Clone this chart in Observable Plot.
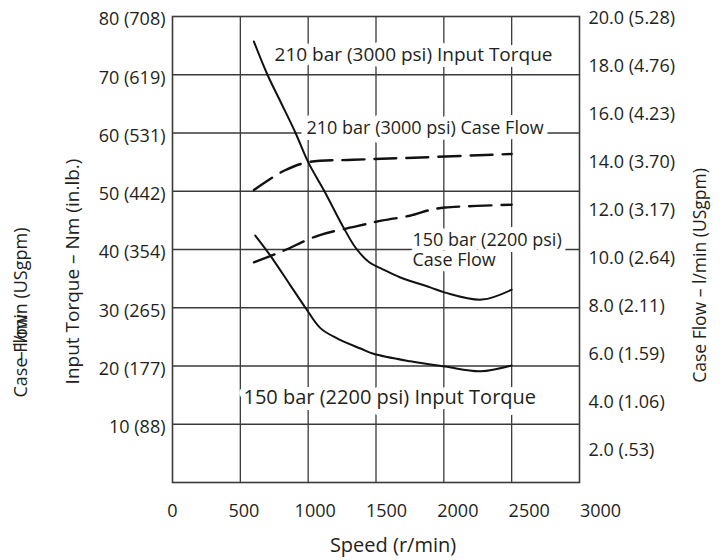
<!DOCTYPE html>
<html><head><meta charset="utf-8">
<script src="https://cdn.jsdelivr.net/npm/d3@7"></script>
<script src="https://cdn.jsdelivr.net/npm/@observablehq/plot@0.6"></script>
<style>
body{margin:0;background:#fff;}
#wrap{position:relative;width:721px;height:560px;}
#wrap svg{position:absolute;left:0;top:0;}
</style></head><body><div id="wrap"></div>
<script>
// ---- tick values and labels ----
const speedTicks = [0, 500, 1000, 1500, 2000, 2500, 3000];
const torqueTicks = [10, 20, 30, 40, 50, 60, 70, 80];
const torqueTickLabels = ["10 (88)", "20 (177)", "30 (265)", "40 (354)", "50 (442)", "60 (531)", "70 (619)", "80 (708)"];
const flowTicks = [2, 4, 6, 8, 10, 12, 14, 16, 18, 20];
const flowTickLabels = ["2.0 (.53)", "4.0 (1.06)", "6.0 (1.59)", "8.0 (2.11)", "10.0 (2.64)", "12.0 (3.17)", "14.0 (3.70)", "16.0 (4.23)", "18.0 (4.76)", "20.0 (5.28)"];

// ---- series (speed r/min; torque Nm; case flow l/min) ----
const speed210T = [600, 700, 800, 907, 1000, 1120, 1260, 1350, 1450, 1550, 1680, 1900, 2010, 2280, 2500];
const torque210 = [75.7, 70, 65.2, 60, 55, 50, 43.8, 40.3, 37.8, 36.6, 35.2, 33.5, 32.6, 31.4, 33.1];
const speed150T = [610, 720, 870, 980, 1090, 1216, 1386, 1481, 1754, 2010, 2270, 2500];
const torque150 = [42.4, 39.0, 33.8, 30.0, 26.5, 24.7, 23.0, 22.1, 20.8, 19.9, 19.1, 20.1];
const speed210F = [600, 700, 830, 1000, 1330, 1830, 2500];
const flow210 = [12.55, 12.95, 13.4, 13.75, 13.85, 13.95, 14.1];
const speed150F = [600, 800, 1075, 1360, 1550, 1750, 1900, 2010, 2500];
const flow150 = [9.45, 9.9, 10.6, 11.0, 11.25, 11.45, 11.7, 11.8, 11.92];

// ---- annotations ----
const labelText = ["210 bar (3000 psi) Input Torque", "210 bar (3000 psi) Case Flow", "150 bar (2200 psi)\nCase Flow", "150 bar (2200 psi) Input Torque"];
const labelSpeed = [752, 988, 1769, 523];
const labelTorque = [72.3, 59.9, 37.25, 13.56];
const labelSize = [19, 18, 18, 20];

const ink = "#231f20";
const grid = "#3a3a3a";
const font = "'Open Sans', 'Noto Sans', sans-serif";

const zip = (xs, ys) => xs.map((x, i) => ({x, y: ys[i]}));
const labels = labelText.map((t, i) => ({text: t, x: labelSpeed[i], y: labelTorque[i], size: labelSize[i]}));

const main = Plot.plot({
  width: 721, height: 560,
  marginLeft: 172, marginRight: 142, marginTop: 16, marginBottom: 78,
  x: {domain: [0, 3000], axis: null},
  y: {domain: [0, 80], axis: null},
  style: {fontFamily: font, fontSize: "18px", color: ink, background: "white"},
  marks: [
    Plot.ruleX(speedTicks.slice(1, -1), {stroke: grid, strokeWidth: 1.3}),
    Plot.ruleY(torqueTicks.slice(0, -1), {stroke: grid, strokeWidth: 1.3}),
    Plot.frame({stroke: grid, strokeWidth: 1.6}),
    Plot.text(labels, {x: "x", y: "y", text: "text", textAnchor: "start", lineAnchor: "bottom", lineHeight: 1.1,
      fontSize: "size", fill: ink, stroke: "white", strokeWidth: 12}),
    Plot.line(zip(speed210T, torque210), {x: "x", y: "y", stroke: "#111", strokeWidth: 2, curve: "catmull-rom"}),
    Plot.line(zip(speed150T, torque150), {x: "x", y: "y", stroke: "#111", strokeWidth: 2, curve: "catmull-rom"}),
    Plot.line(zip(speed210F, flow210), {x: "x", y: d => d.y * 4, stroke: "#111", strokeWidth: 2.4, strokeDasharray: "22,10", curve: "catmull-rom"}),
    Plot.line(zip(speed150F, flow150), {x: "x", y: d => d.y * 4, stroke: "#111", strokeWidth: 2.4, strokeDasharray: "22,10", curve: "catmull-rom"}),
    Plot.axisY({anchor: "left", label: null, ticks: torqueTicks, tickSize: 0, tickPadding: 7, dy: 3, fontSize: 18, fill: ink,
      tickFormat: d => torqueTickLabels[torqueTicks.indexOf(d)]}),
    // axis titles
    Plot.text(["Input Torque – Nm (in.lb.)"], {frameAnchor: "left", text: d => d, rotate: -90, textAnchor: "middle", lineAnchor: "middle", dx: -100, dy: 22, fontSize: 19, fill: ink}),
    Plot.text(["Case Flow"], {frameAnchor: "bottom-left", text: d => d, rotate: -90, textAnchor: "start", lineAnchor: "middle", dx: -151, dy: -85, fontSize: 18, fill: ink}),
    Plot.text(["– l/min (USgpm)"], {frameAnchor: "top-left", text: d => d, rotate: -90, textAnchor: "end", lineAnchor: "middle", dx: -151, dy: 211, fontSize: 18, fill: ink}),
    Plot.text(["Case Flow – l/min (USgpm)"], {frameAnchor: "right", text: d => d, rotate: -90, textAnchor: "middle", lineAnchor: "middle", dx: 121, dy: 26, fontSize: 17.5, fill: ink}),
    Plot.text(["Speed (r/min)"], {frameAnchor: "bottom", text: d => d, textAnchor: "middle", lineAnchor: "middle", dx: 17, dy: 63, fontSize: 20, fill: ink})
  ]
});

// overlay with the tick labels of the speed axis and the case-flow axis
const overlay = Plot.plot({
  width: 721, height: 560,
  marginLeft: 172, marginRight: 121, marginTop: 17.5, marginBottom: 62,
  x: {domain: [0, 3000], axis: null},
  y: {domain: [0, 20], axis: null},
  style: {fontFamily: font, fontSize: "18px", color: ink, background: "transparent", pointerEvents: "none"},
  marks: [
    Plot.axisX({anchor: "bottom", label: null, ticks: speedTicks, tickSize: 0, tickPadding: 5.6, fontSize: 18, fill: ink, tickFormat: d => String(d)}),
    Plot.axisY({anchor: "right", label: null, ticks: flowTicks, tickSize: 0, tickPadding: 0, dx: -12, fontSize: 18, fill: ink, textAnchor: "start",
      tickFormat: d => flowTickLabels[flowTicks.indexOf(d)]})
  ]
});

const wrap = document.getElementById("wrap");
wrap.appendChild(main);
wrap.appendChild(overlay);
</script>
</body></html>
